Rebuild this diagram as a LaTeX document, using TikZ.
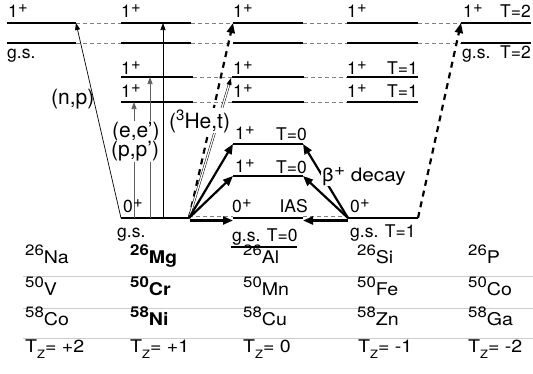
\documentclass[tikz,border=0pt]{standalone}
\usepackage{fontspec}
\setmainfont{TeX Gyre Heros}
\newfontfamily\widefont{TeX Gyre Heros}[FakeStretch=1.12]
\usetikzlibrary{arrows.meta}
\newcommand\iso[2]{\raisebox{7.5pt}{\fontsize{15}{15}\selectfont #1}#2}
\newcommand\isob[2]{\bfseries\iso{#1}{#2}}
\newcommand\tzv[1]{T\raisebox{-6pt}{\fontsize{11.5}{11}\selectfont Z}= #1}
\newcommand\plusup{\hspace{0.3pt}\raisebox{5pt}{\fontsize{16.5}{14}\selectfont +}}
\begin{document}
\begin{tikzpicture}[x=1pt,y=-1pt,
  lvl/.style={line width=2.6pt},
  conn/.style={gray, dash pattern=on 4pt off 3pt, line width=0.8pt},
  lab/.style={anchor=base west, inner sep=0pt, font=\fontsize{17.5}{20}\selectfont},
  labr/.style={anchor=base east, inner sep=0pt, font=\fontsize{17.5}{20}\selectfont},
  rlab/.style={anchor=base west, fill=white, inner sep=1pt, font=\fontsize{21}{24}\selectfont},
  tab/.style={anchor=base west, inner sep=0pt, font=\widefont\fontsize{17.5}{20}\selectfont},
  sepl/.style={gray!40, line width=0.8pt},
  thinarr/.style={-{Triangle[length=7pt,width=5pt]}, line width=0.7pt},
  thickarr/.style={-{Triangle[length=10pt,width=8pt]}, line width=2.2pt},
  thickdash/.style={thickarr, dash pattern=on 6pt off 5pt},
]
\useasboundingbox (0,0) rectangle (533,373);

% ---- level lines ----
\foreach \r/\y in {A/23,B/43} {
  \foreach \c/\a/\b in {Na/7/76, Mg/121/191, Al/233/303, Si/347/418, P/461/531} {
    \coordinate (\c\r l) at (\a,\y);
    \coordinate (\c\r r) at (\b,\y);
    \draw[lvl] (\c\r l) -- (\c\r r);
  }
}
\foreach \r/\y in {C/77,D/102} {
  \foreach \c/\a/\b in {Mg/121/193, Al/232/304, Si/347/418} {
    \coordinate (\c\r l) at (\a,\y);
    \coordinate (\c\r r) at (\b,\y);
    \draw[lvl] (\c\r l) -- (\c\r r);
  }
}
\coordinate (MgEl) at (121,218); \coordinate (MgEr) at (189,218);
\coordinate (AlEl) at (233,218); \coordinate (AlEr) at (303,218);
\coordinate (SiEl) at (348,218); \coordinate (SiEr) at (418,218);
\draw[lvl] (MgEl) -- (MgEr);
\draw[lvl] (AlEl) -- (AlEr);
\draw[lvl] (SiEl) -- (SiEr);
\coordinate (AlUl) at (233,144); \coordinate (AlUr) at (303,144);
\coordinate (AlLl) at (233,176); \coordinate (AlLr) at (303,176);
\coordinate (AlGl) at (231,247); \coordinate (AlGr) at (297,247);
\draw[lvl] (AlUl) -- (AlUr);
\draw[lvl] (AlLl) -- (AlLr);
\draw[lvl] (AlGl) -- (AlGr);

% ---- dashed connectors ----
\foreach \r in {A,B} {
  \draw[conn] (Na\r r) -- (Mg\r l);
  \draw[conn] (Mg\r r) -- (Al\r l);
  \draw[conn] (Al\r r) -- (Si\r l);
  \draw[conn] (Si\r r) -- (P\r l);
}
\foreach \r in {C,D} {
  \draw[conn] (Mg\r r) -- (Al\r l);
  \draw[conn] (Al\r r) -- (Si\r l);
}
\coordinate (d1a) at (189,216.5); \coordinate (d1b) at (233,216.5);
\coordinate (d2a) at (303,216.5); \coordinate (d2b) at (348,216.5);
\draw[conn] (d1a) -- (d1b);
\draw[conn] (d2a) -- (d2b);

% ---- transitions ----
\draw[thinarr] (MgEl) -- (NaAr);
\coordinate (v1b) at (134,218); \coordinate (v1t) at (134,102);
\coordinate (v2b) at (150,218); \coordinate (v2t) at (150,77);
\coordinate (v3b) at (163,218); \coordinate (v3t) at (163,23);
\draw[thinarr, gray!75!black] (v1b) -- (v1t);
\draw[thinarr, gray!75!black] (v2b) -- (v2t);
\draw[thinarr] (v3b) -- (v3t);

\coordinate (O) at (189,218);
\coordinate (Oh) at (190,220.5);
\coordinate (Ih) at (233,220.5);
\coordinate (S) at (348,218);
\coordinate (Sh) at (348,220.5);
\coordinate (Jh) at (303,220.5);
\coordinate (T2) at (231,78);
\draw[thickdash] (O) -- (AlAl);
\draw[double, double distance=1.3pt, line width=0.5pt, -{Triangle[length=7pt,width=5pt]}] (O) -- (T2);
\draw[thickarr] (O) -- (AlUl);
\draw[thickarr] (O) -- (AlLl);
\draw[thickarr] (Oh) -- (Ih);
\draw[thickarr] (S) -- (AlUr);
\draw[thickarr] (S) -- (AlLr);
\draw[thickarr] (Sh) -- (Jh);
\draw[thickdash] (SiEr) -- (PAl);

% ---- labels over lines ----
\node[rlab] (lee) at (111,137) {(e,e')};
\node[rlab] (lpp) at (110,156) {(p,p')};
\node[rlab] (lhe) at (168,128) {(\raisebox{8pt}{\fontsize{15}{15}\selectfont 3}He,t)};
\node[rlab, font=\widefont\fontsize{18.5}{20}\selectfont] (lbeta) at (321,181) {β\hspace{0.5pt}\raisebox{5.5pt}{\fontsize{17}{14}\selectfont +} decay};
\node[rlab, fill=none, inner sep=0pt] (lnp) at (51,104) {(n,p)};

% ---- level labels ----
\node[lab] (t1) at (8,17) {1\plusup};
\node[lab] (t2) at (121,17) {1\plusup};
\node[lab] (t3) at (233,17) {1\plusup};
\node[lab] (t4) at (347,17) {1\plusup};
\node[lab] (t5) at (463,17) {1\plusup};
\node[labr] (t5b) at (531,17) {T=2};
\node[lab] (g1) at (7,58) {g.s.};
\node[lab] (g5) at (462,58) {g.s.};
\node[labr] (g5b) at (531,58) {T=2};
\node[lab] (c2) at (121,74) {1\plusup};
\node[lab] (d2) at (121,97) {1\plusup};
\node[lab] (c3) at (233,74) {1\plusup};
\node[lab] (d3) at (233,97) {1\plusup};
\node[lab] (c4) at (347,74) {1\plusup};
\node[labr] (c4b) at (418,74) {T=1};
\node[lab] (d4) at (347,97) {1\plusup};
\node[labr] (d4b) at (418,97) {T=1};
\node[lab] (u3) at (235,139) {1\plusup};
\node[labr] (u3b) at (307,140) {T=0};
\node[lab] (l3) at (235,172) {1\plusup};
\node[labr] (l3b) at (307,173) {T=0};
\node[lab] (z3) at (232,212) {0\plusup};
\node[labr] (z3b) at (308,212) {IAS};
\node[lab] (z2) at (123,212) {0\plusup};
\node[lab] (gz2) at (117,237) {g.s.};
\node[lab] (z4) at (350,212) {0\plusup};
\node[lab] (gz4) at (350,237) {g.s. T=1};
\node[lab] (gz3) at (232,241) {g.s. T=0};

% ---- table ----
\foreach \i/\y in {1/276,2/308,3/338} {
  \coordinate (s\i l) at (23,\y); \coordinate (s\i r) at (533,\y);
  \draw[sepl] (s\i l) -- (s\i r);
}
\node[tab] (na) at (25,263) {\iso{26}{Na}};
\node[tab] (mg) at (130,263) {\isob{26}{Mg}};
\node[tab] (al) at (243,263) {\iso{26}{Al}};
\node[tab] (si) at (357,263) {\iso{26}{Si}};
\node[tab] (p) at (468,263) {\iso{26}{P}};
\node[tab] (v) at (25,295) {\iso{50}{V}};
\node[tab] (cr) at (130,295) {\isob{50}{Cr}};
\node[tab] (mn) at (243,295) {\iso{50}{Mn}};
\node[tab] (fe) at (357,295) {\iso{50}{Fe}};
\node[tab] (co) at (468,295) {\iso{50}{Co}};
\node[tab] (co2) at (25,325) {\iso{58}{Co}};
\node[tab] (ni) at (130,325) {\isob{58}{Ni}};
\node[tab] (cu) at (243,325) {\iso{58}{Cu}};
\node[tab] (zn) at (357,325) {\iso{58}{Zn}};
\node[tab] (ga) at (468,325) {\iso{58}{Ga}};
\node[tab] (tz1) at (25,352) {\tzv{+2}};
\node[tab] (tz2) at (130,352) {\tzv{+1}};
\node[tab] (tz3) at (243,352) {\tzv{0}};
\node[tab] (tz4) at (358,352) {\tzv{-1}};
\node[tab] (tz5) at (468,352) {\tzv{-2}};
\end{tikzpicture}
\end{document}
